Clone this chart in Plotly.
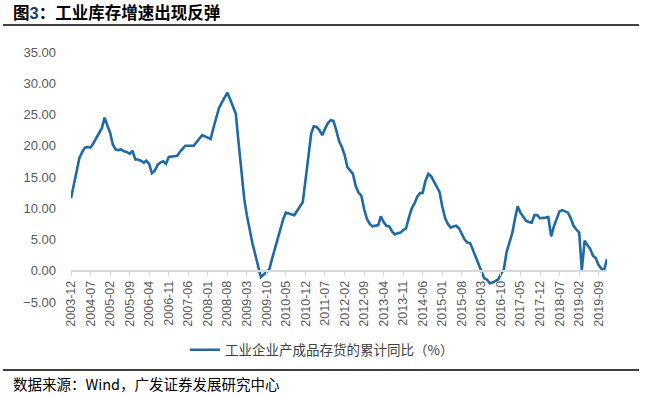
import pandas as pd
import plotly.graph_objects as go

# Monthly cumulative YoY growth of finished-goods inventory (%), 2003-12 .. 2019-12
v2003 = [11.6]
v2004 = [13.8, 16.0, 18.0, 19.0, 19.7, 19.8, 19.7, 20.4, 21.3, 22.0, 22.8, 24.5]
v2005 = [23.2, 22.0, 20.2, 19.4, 19.3, 19.4, 19.1, 19.0, 18.7, 19.2, 17.8, 17.8]
v2006 = [17.6, 17.3, 17.6, 17.1, 15.6, 16.0, 16.9, 17.3, 17.5, 17.1, 18.2, 18.3]
v2007 = [18.3, 18.4, 19.0, 19.6, 20.0, 20.0, 20.0, 20.0, 20.6, 21.2, 21.7, 21.5]
v2008 = [21.3, 21.1, 22.8, 24.5, 26.0, 26.9, 27.7, 28.5, 27.4, 26.2, 25.1, 20.5]
v2009 = [15.8, 11.5, 8.9, 6.4, 4.4, 2.6, 0.8, -1.0, -0.6, -0.2, 0.2, 1.9]
v2010 = [3.6, 5.3, 6.8, 8.2, 9.3, 9.2, 9.1, 8.9, 9.6, 10.3, 11.0, 14.5]
v2011 = [18.5, 22.0, 23.1, 23.0, 22.5, 21.7, 22.7, 23.6, 24.1, 24.0, 22.5, 20.8]
v2012 = [19.8, 18.5, 16.6, 16.0, 15.5, 13.5, 12.5, 12.0, 9.8, 8.3, 7.5, 7.1]
v2013 = [7.2, 7.3, 8.7, 7.8, 7.2, 7.1, 6.3, 5.8, 6.0, 6.1, 6.5, 6.8]
v2014 = [8.5, 10.0, 10.7, 11.8, 12.4, 12.5, 14.4, 15.5, 15.1, 14.3, 13.6, 12.6]
v2015 = [10.2, 8.4, 7.5, 6.9, 7.1, 7.2, 6.8, 5.9, 5.0, 4.5, 4.4, 3.3]
v2016 = [2.2, 1.0, 0.0, -1.2, -1.4, -2.0, -1.9, -1.7, -1.4, -0.5, 0.2, 3.0]
v2017 = [4.5, 6.0, 8.2, 10.3, 9.3, 8.7, 8.0, 7.8, 7.7, 8.9, 8.9, 8.4]
v2018 = [8.4, 8.5, 8.6, 5.5, 7.1, 8.2, 9.5, 9.7, 9.5, 9.3, 8.4, 7.2]
v2019 = [6.6, 6.1, 0.1, 4.8, 4.1, 3.5, 2.4, 2.0, 0.9, 0.3, 0.2, 1.9]

values = (v2003 + v2004 + v2005 + v2006 + v2007 + v2008 + v2009 + v2010 + v2011
          + v2012 + v2013 + v2014 + v2015 + v2016 + v2017 + v2018 + v2019)
dates = pd.date_range("2003-12-01", periods=len(values), freq="MS")

series_name = "工业企业产成品存货的累计同比（%）"
title_text = "图<span style='color:#1f3a68;font-family:Arial, Liberation Sans'>3</span>：工业库存增速出现反弹"
source_text = "数据来源：Wind，广发证券发展研究中心"
y_ticks = [-5, 0, 5, 10, 15, 20, 25, 30, 35]

W, H = 648, 398
L, R, T, B = 71, 607, 52, 302   # plot area in pixels


def px(x):
    return (x - L) / (R - L)


def py(y):
    return (B - y) / (B - T)


fig = go.Figure()
fig.add_trace(go.Scatter(
    x=dates, y=values, mode="lines", name=series_name,
    line=dict(color="#1f6aa5", width=2.6), showlegend=True,
))

fig.update_layout(
    width=W, height=H,
    margin=dict(l=L, r=W - R, t=T, b=H - B, pad=0, autoexpand=False),
    paper_bgcolor="white", plot_bgcolor="white",
    font=dict(family="Arial, Liberation Sans, Noto Sans CJK SC", color="#595959"),
    showlegend=True,
    legend=dict(
        orientation="h", x=px(322), xanchor="center", y=py(350), yanchor="middle",
        font=dict(family="Noto Sans CJK SC", size=13.5, color="#404040"),
        bgcolor="rgba(0,0,0,0)", itemwidth=30,
    ),
    xaxis=dict(
        type="date",
        range=[dates[0], dates[-1]],
        anchor="free", position=5 / 40,
        tick0="2003-12-01", dtick="M7", tickformat="%Y-%m",
        tickangle=-90,
        tickfont=dict(size=12.5, color="#595959"),
        showline=True, linecolor="#d9d9d9", linewidth=2,
        ticks="outside", ticklen=4, tickcolor="#d9d9d9", tickwidth=1,
        showgrid=False, zeroline=False, automargin=False,
    ),
    yaxis=dict(
        range=[-5, 35], tickvals=y_ticks, tickformat=".2f",
        tickfont=dict(size=13, color="#595959"),
        showgrid=False, zeroline=False, showline=False, ticks="",
        ticklabelstandoff=14, automargin=False,
    ),
    shapes=[
        dict(type="line", xref="paper", yref="paper",
             x0=px(3), x1=px(639), y0=py(25), y1=py(25),
             line=dict(color="black", width=1.3)),
        dict(type="line", xref="paper", yref="paper",
             x0=px(3), x1=px(639), y0=py(370), y1=py(370),
             line=dict(color="black", width=1.3)),
    ],
    annotations=[
        dict(text="<b>" + title_text + "</b>", xref="paper", yref="paper",
             x=px(11), y=py(12), xanchor="left", yanchor="middle", showarrow=False,
             font=dict(family="Noto Sans CJK SC", size=16.5, color="black")),
        dict(text=source_text, xref="paper", yref="paper",
             x=px(11), y=py(383), xanchor="left", yanchor="middle", showarrow=False,
             font=dict(family="Noto Sans CJK SC", size=14.5, color="black")),
    ],
)

fig.write_html(
    "out.html",
    config={"displayModeBar": False},
    post_script="document.body.style.margin='0';document.body.style.overflow='hidden';",
)
